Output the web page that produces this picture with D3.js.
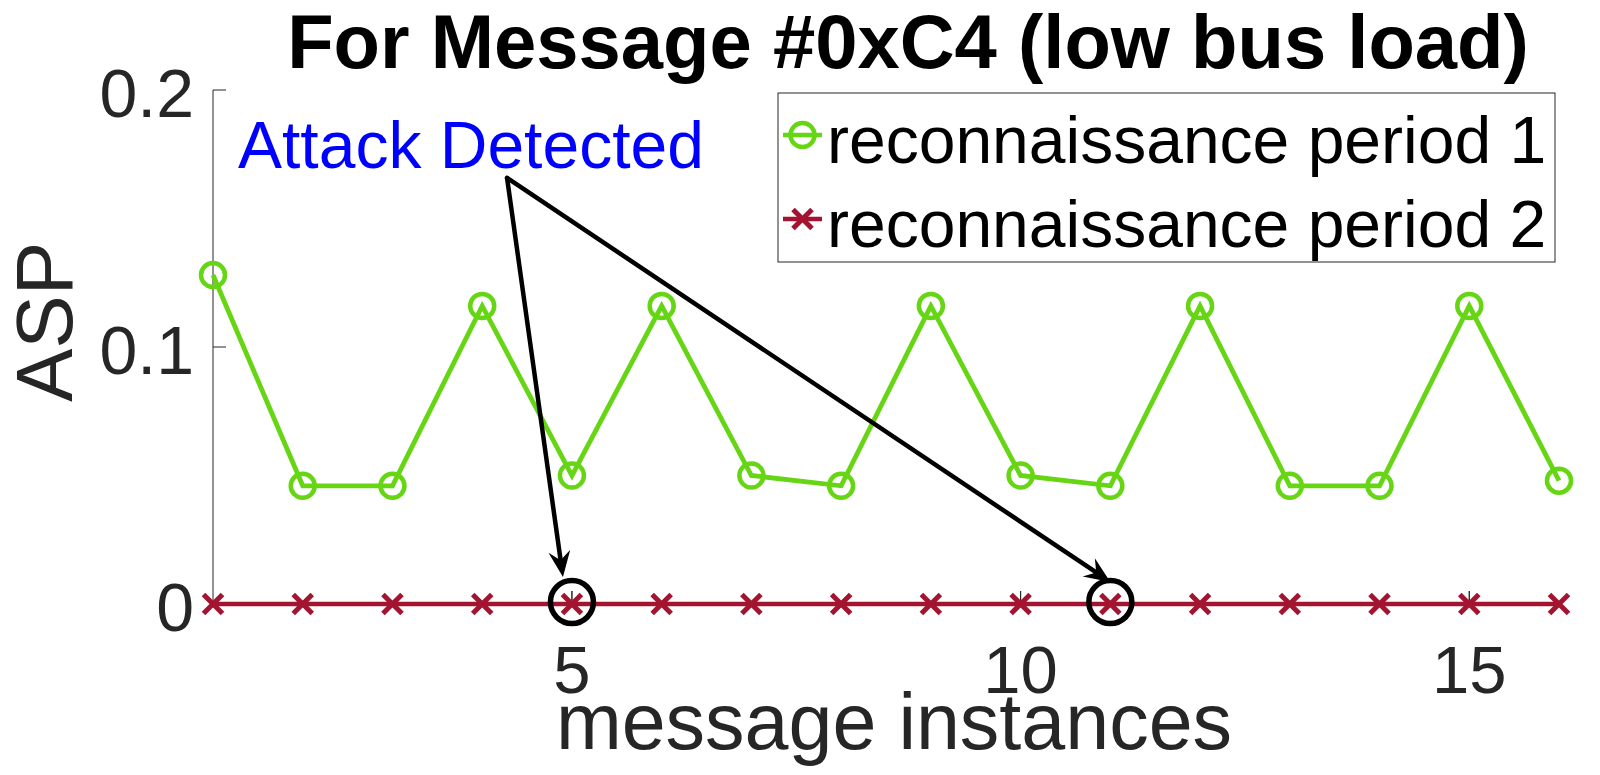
<!DOCTYPE html>
<html><head><meta charset="utf-8">
<script src="https://cdn.jsdelivr.net/npm/d3@7/dist/d3.min.js"></script>
<style>html,body{margin:0;padding:0;background:#fff;}svg{display:block;font-family:"Liberation Sans",Arial,sans-serif;}</style>
</head><body><svg id="c" width="1600" height="775"></svg>
<script>
const instances = [1,2,3,4,5,6,7,8,9,10,11,12,13,14,15,16];
const period1 = [0.128,0.046,0.046,0.116,0.050,0.116,0.050,0.046,0.116,0.050,0.046,0.116,0.046,0.046,0.116,0.048];
const period2 = [0,0,0,0,0,0,0,0,0,0,0,0,0,0,0,0];
const xTicks = [5,10,15];
const yTicks = [0,0.1,0.2];
const yTickLabels = ["0","0.1","0.2"];
const seriesNames = ["reconnaissance period 1","reconnaissance period 2"];
const detected = [{x:5,y:0},{x:11,y:0}];
const arrowFrom = {x:4.277,y:0.1658};
const arrowTo = [{x:4.90,y:0.0105},{x:11.0,y:0.0086}];
const titleText = "For Message #0xC4 (low bus load)";
const annoText = "Attack Detected";

const green = "rgb(102,214,20)", red = "#A2142F", axc = "#262626";
const svg = d3.select("#c");
const x = d3.scaleLinear().domain([1,16]).range([213,1559]);
const y = d3.scaleLinear().domain([0,0.2]).range([604,90]);

// axes
svg.append("line").attr("x1",x(1)).attr("x2",x(1)).attr("y1",y(0.2)).attr("y2",y(0)).attr("stroke",axc).attr("stroke-width",1);
svg.append("line").attr("x1",x(1)).attr("x2",x(16)).attr("y1",y(0)).attr("y2",y(0)).attr("stroke",axc).attr("stroke-width",1);
svg.selectAll(".yt").data(yTicks).enter().append("line").attr("x1",x(1)).attr("x2",x(1)+13).attr("y1",d=>y(d)).attr("y2",d=>y(d)).attr("stroke",axc);
svg.selectAll(".xt").data(xTicks).enter().append("line").attr("x1",d=>x(d)).attr("x2",d=>x(d)).attr("y1",y(0)).attr("y2",y(0)-13).attr("stroke",axc);
svg.selectAll(".yl").data(yTicks).enter().append("text").attr("x",194).attr("y",d=>y(d)+27).attr("text-anchor","end").attr("font-size",68).attr("fill",axc).text((d,i)=>yTickLabels[i]);
svg.selectAll(".xl").data(xTicks).enter().append("text").attr("x",d=>x(d)).attr("y",693).attr("text-anchor","middle").attr("font-size",67).attr("fill",axc).text(d=>d);
svg.append("text").attr("x",894).attr("y",749).attr("text-anchor","middle").attr("font-size",79).attr("fill",axc).text("message instances");
svg.append("text").attr("transform","translate(72,322) rotate(-90)").attr("text-anchor","middle").attr("font-size",80).attr("fill",axc).text("ASP");
svg.append("text").attr("x",908).attr("y",68).attr("text-anchor","middle").attr("font-size",76).attr("font-weight","bold").attr("fill","#000").text(titleText);

// series
const line = d3.line().x((d,i)=>x(instances[i])).y(d=>y(d));
svg.append("path").attr("d",line(period1)).attr("fill","none").attr("stroke",green).attr("stroke-width",4.8).attr("stroke-linejoin","miter");
svg.selectAll(".g").data(period1).enter().append("circle").attr("cx",(d,i)=>x(instances[i])).attr("cy",d=>y(d)).attr("r",12).attr("fill","none").attr("stroke",green).attr("stroke-width",4.5);
svg.append("path").attr("d",line(period2)).attr("fill","none").attr("stroke",red).attr("stroke-width",4.5);
const xs = 9.5;
function xMark(g,cx,cy){
  g.append("path").attr("d",`M${cx-xs},${cy-xs}L${cx+xs},${cy+xs}M${cx-xs},${cy+xs}L${cx+xs},${cy-xs}`).attr("stroke",red).attr("stroke-width",5).attr("fill","none");
}
period2.forEach((d,i)=>xMark(svg,x(instances[i]),y(d)));
svg.selectAll(".xt2").data(xTicks).enter().append("line").attr("x1",d=>x(d)).attr("x2",d=>x(d)).attr("y1",y(0)-4).attr("y2",y(0)-13).attr("stroke",axc);

// detected circles
svg.selectAll(".det").data(detected).enter().append("circle").attr("cx",d=>x(d.x)).attr("cy",d=>y(d.y)-2).attr("r",21.5).attr("fill","none").attr("stroke","#000").attr("stroke-width",5.5);

// arrows
const x0 = x(arrowFrom.x), y0 = y(arrowFrom.y);
arrowTo.forEach(t=>{
  const x1 = x(t.x), y1 = y(t.y);
  const dx = x1-x0, dy = y1-y0, L = Math.hypot(dx,dy), ux = dx/L, uy = dy/L, px = -uy, py = ux;
  const hl = 26, hw = 11, nb = 17;
  svg.append("line").attr("x1",x0).attr("y1",y0).attr("x2",x1-ux*nb).attr("y2",y1-uy*nb).attr("stroke","#000").attr("stroke-width",4.5).attr("stroke-linecap","round");
  const pts = [[x1,y1],[x1-ux*hl+px*hw,y1-uy*hl+py*hw],[x1-ux*nb,y1-uy*nb],[x1-ux*hl-px*hw,y1-uy*hl-py*hw]];
  svg.append("path").attr("d","M"+pts.map(p=>p.join(",")).join("L")+"Z").attr("fill","#000");
});
svg.append("text").attr("x",238).attr("y",168).attr("font-size",66).attr("fill","#0000FF").text(annoText);

// legend
const lg = svg.append("g");
lg.append("rect").attr("x",778).attr("y",93).attr("width",777).attr("height",169).attr("fill","#fff").attr("stroke",axc).attr("stroke-width",1);
const rows = [135,219];
lg.append("line").attr("x1",783).attr("x2",822).attr("y1",rows[0]).attr("y2",rows[0]).attr("stroke",green).attr("stroke-width",4.5);
lg.append("circle").attr("cx",802.5).attr("cy",rows[0]).attr("r",12).attr("fill","none").attr("stroke",green).attr("stroke-width",4.5);
lg.append("line").attr("x1",783).attr("x2",822).attr("y1",rows[1]).attr("y2",rows[1]).attr("stroke",red).attr("stroke-width",4.5);
xMark(lg,802.5,rows[1]);
seriesNames.forEach((n,i)=>lg.append("text").attr("x",827).attr("y",rows[i]+28).attr("font-size",66).attr("fill","#000").text(n));
</script></body></html>
